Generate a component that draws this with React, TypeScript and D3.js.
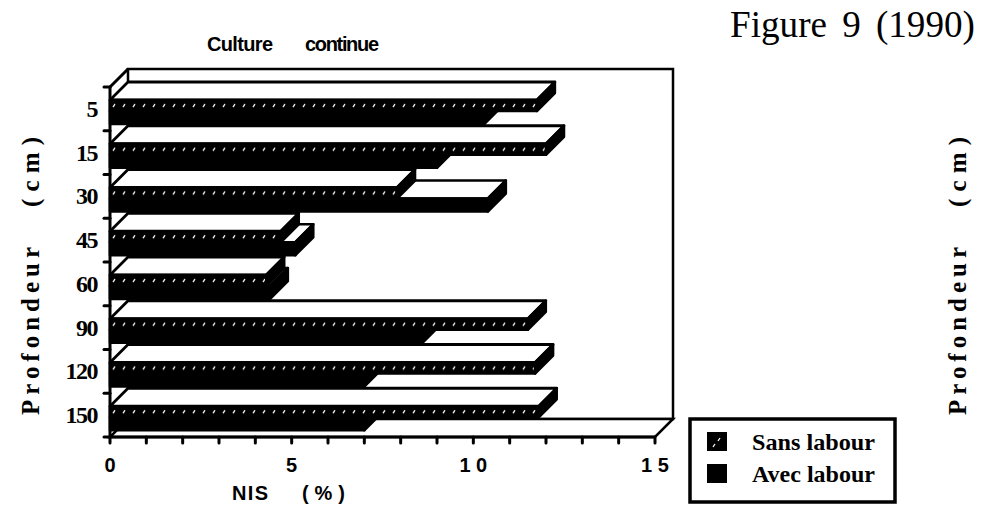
import React from "react";
import * as d3 from "d3";

// depth categories (cm) and NIS values (%)
const depths = ["5", "15", "30", "45", "60", "90", "120", "150"];
const sansLabour = [11.75, 12.0, 7.9, 4.7, 4.3, 11.5, 11.7, 11.8];
const avecLabour = [10.3, 9.0, 10.4, 5.1, 4.4, 8.6, 7.0, 7.0];
const xMajor = [0, 5, 10, 15];
const xMajorText = ["0", "5", "1 0", "1 5"];
const seriesNames = ["Sans labour", "Avec labour"];

const DX = 18;
const DY = -18;
const serif = "'Liberation Serif', 'Times New Roman', serif";
const narrow = "'Liberation Sans Narrow', 'Liberation Sans', sans-serif";

const faces = (x0: number, x1: number, t: number, b: number) => ({
  front: `M${x0},${t}H${x1}V${b}H${x0}Z`,
  top: `M${x0},${t}L${x0 + DX},${t + DY}H${x1 + DX}L${x1},${t}Z`,
  side: `M${x1},${t}L${x1 + DX},${t + DY}V${b + DY}L${x1},${b}Z`,
});

const App = () => {
  const x = d3.scaleLinear().domain([0, 15]).range([110, 655]);
  const y = d3.scaleBand().domain(depths).range([87, 437]);
  const step = y.step();
  const [top, bottom] = y.range();
  const bounds = d3.range(depths.length + 1).map((i) => top + i * step);
  const minor = d3.range(0, 16);

  // draw lower categories first so upper fronts sit over them
  const order = d3.range(depths.length).reverse();

  return (
    <svg
      width={982}
      height={509}
      style={{ position: "absolute", left: 0, top: 0, background: "#fff" }}
    >
      <defs>
        <pattern
          id="dots"
          patternUnits="userSpaceOnUse"
          x={0}
          y={top}
          width={10}
          height={step}
        >
          <rect width={10} height={step} fill="#000" />
          <path d="M3,20 L5,17" stroke="#fff" strokeWidth={1.3} />
        </pattern>
      </defs>

      {/* back wall and floor */}
      <rect
        x={x(0) + DX}
        y={top + DY}
        width={x(15) - x(0)}
        height={bottom - top}
        fill="#fff"
        stroke="#000"
        strokeWidth={2.5}
      />
      <path
        d={`M${x(0)},${bottom}H${x(15)}L${x(15) + DX},${bottom + DY}H${x(0) + DX}Z`}
        fill="#fff"
        stroke="#000"
        strokeWidth={2.5}
      />

      {/* bars */}
      {order.map((i) => {
        const b = y(depths[i]) as number;
        const hTop = b + 13;
        const hBot = b + 24;
        const aBot = b + 37;
        const av = faces(x(0), x(avecLabour[i]), hBot, aBot);
        const sl = faces(x(0), x(sansLabour[i]), hTop, hBot);
        return (
          <g key={depths[i]} strokeLinejoin="round">
            <path d={av.top} fill="#fff" stroke="#000" strokeWidth={2.5} />
            <path d={av.side} fill="#000" stroke="#000" strokeWidth={2.5} />
            <path d={av.front} fill="#000" stroke="#000" strokeWidth={2.5} />
            <path d={sl.top} fill="#fff" stroke="#000" strokeWidth={2.8} />
            <path d={sl.side} fill="#000" stroke="#000" strokeWidth={2.5} />
            <path d={sl.front} fill="url(#dots)" stroke="#000" strokeWidth={2.5} />
          </g>
        );
      })}

      {/* front axis */}
      <line x1={x(0)} x2={x(0)} y1={top} y2={bottom} stroke="#000" strokeWidth={3} />
      <line x1={x(0)} x2={x(0) + DX} y1={top} y2={top + DY} stroke="#000" strokeWidth={3} />
      {bounds.map((v) => (
        <line key={v} x1={x(0) - 6} x2={x(0)} y1={v} y2={v} stroke="#000" strokeWidth={3} strokeLinecap="round" />
      ))}
      <line x1={x(0)} x2={x(15)} y1={bottom} y2={bottom} stroke="#000" strokeWidth={3} />
      {minor.map((v) => (
        <line key={v} x1={x(v)} x2={x(v)} y1={bottom} y2={bottom + 6} stroke="#000" strokeWidth={3} strokeLinecap="round" />
      ))}

      {/* y tick labels */}
      {depths.map((d) => (
        <text
          key={d}
          x={97}
          y={(y(d) as number) + step / 2 + 8}
          textAnchor="end"
          fontFamily={serif}
          fontWeight="bold"
          fontSize={24}
          letterSpacing={-1.5}
        >
          {d}
        </text>
      ))}

      {/* x tick labels */}
      {xMajor.map((v, i) => (
        <text
          key={v}
          x={x(v)}
          y={472}
          textAnchor="middle"
          fontFamily={narrow}
          fontWeight="bold"
          fontSize={20}
        >
          {xMajorText[i]}
        </text>
      ))}
      <text x={232} y={500} fontFamily={narrow} fontWeight="bold" fontSize={20} textLength={36} lengthAdjust="spacing">
        NIS
      </text>
      <text x={302} y={500} fontFamily={narrow} fontWeight="bold" fontSize={20} textLength={43} lengthAdjust="spacing">
        (%)
      </text>

      {/* titles */}
      <text x={207} y={51} fontFamily={narrow} fontWeight="bold" fontSize={20} textLength={66} lengthAdjust="spacing">
        Culture
      </text>
      <text x={305} y={51} fontFamily={narrow} fontWeight="bold" fontSize={20} textLength={74} lengthAdjust="spacing">
        continue
      </text>
      <text x={730} y={37} fontFamily={serif} fontSize={38} textLength={245} lengthAdjust="spacingAndGlyphs" wordSpacing={6}>
        Figure 9 (1990)
      </text>

      {/* y axis titles, left and right */}
      {[30, 957].map((cx) => (
        <g key={cx} fontFamily={serif} fontWeight="bold" fontSize={25}>
          <text transform={`translate(${cx + 9},415) rotate(-90)`} textLength={168} lengthAdjust="spacing">
            Profondeur
          </text>
          <text transform={`translate(${cx + 9},207) rotate(-90)`} textLength={70} lengthAdjust="spacing">
            (cm)
          </text>
        </g>
      ))}

      {/* legend */}
      <rect x={690} y={419} width={205} height={83} fill="#fff" stroke="#000" strokeWidth={3.5} />
      <rect x={707} y={432} width={20} height={19} fill="#000" />
      <path d="M713,447 L715,444 M718,441 L720,438" stroke="#fff" strokeWidth={1.3} />
      <rect x={707} y={464} width={20} height={19} fill="#000" />
      {seriesNames.map((s, i) => (
        <text
          key={s}
          x={752}
          y={450 + i * 32}
          fontFamily={serif}
          fontWeight="bold"
          fontSize={23}
          textLength={123}
          lengthAdjust="spacingAndGlyphs"
        >
          {s}
        </text>
      ))}
    </svg>
  );
};

export default App;
